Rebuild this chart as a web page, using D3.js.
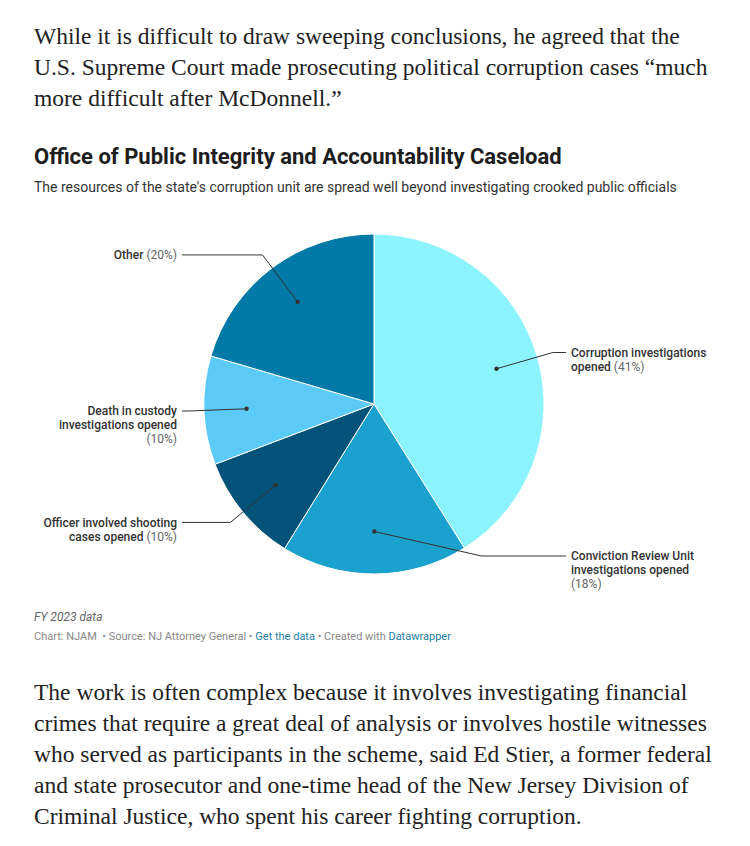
<!DOCTYPE html>
<html>
<head>
<meta charset="utf-8">
<script src="https://cdn.jsdelivr.net/npm/d3@7"></script>
<style>
  html, body { margin: 0; padding: 0; background: #fff; }
  svg { display: block; }
</style>
</head>
<body>
<svg id="page" width="750" height="846"></svg>
<script>
// ---- data ----
const categories = [
  "Corruption investigations opened",
  "Conviction Review Unit investigations opened",
  "Officer involved shooting cases opened",
  "Death in custody investigations opened",
  "Other"
];
// shares (labels show them rounded)
const values = [41.0, 17.7, 10.4, 10.3, 20.4];
const colors = ["#8cf4fe", "#1aa1cd", "#03527a", "#5ccaf6", "#0279a6"];
// label lines (text only); the percentage is appended to the last line, or placed on its own line when "" is last
const labelLines = [
  ["Corruption investigations", "opened"],
  ["Conviction Review Unit", "investigations opened", ""],
  ["Officer involved shooting", "cases opened"],
  ["Death in custody", "investigations opened", ""],
  ["Other"]
];
const title = "Office of Public Integrity and Accountability Caseload";
const subtitle = "The resources of the state's corruption unit are spread well beyond investigating crooked public officials";
const notes = "FY 2023 data";
const paraTop = [
  "While it is difficult to draw sweeping conclusions, he agreed that the",
  "U.S. Supreme Court made prosecuting political corruption cases \u201cmuch",
  "more difficult after McDonnell.\u201d"
];
const paraBottom = [
  "The work is often complex because it involves investigating financial",
  "crimes that require a great deal of analysis or involves hostile witnesses",
  "who served as participants in the scheme, said Ed Stier, a former federal",
  "and state prosecutor and one-time head of the New Jersey Division of",
  "Criminal Justice, who spent his career fighting corruption."
];

// ---- drawing ----
const svg = d3.select("#page");
const serif = "'Liberation Serif', 'DejaVu Serif', serif";
const sans = "Roboto, 'Noto Sans', sans-serif";

function para(lines, y0) {
  const g = svg.append("g");
  lines.forEach((t, i) => {
    g.append("text")
      .attr("x", 34).attr("y", y0 + i * 31)
      .attr("font-family", serif).attr("font-size", 23.5)
      .attr("fill", "#222").text(t);
  });
}
para(paraTop, 44);
para(paraBottom, 700);

svg.append("text").attr("x", 34).attr("y", 164)
  .attr("font-family", sans).attr("font-size", 22).attr("font-weight", 700)
  .attr("fill", "#1d1d1d").text(title);
svg.append("text").attr("x", 34).attr("y", 192)
  .attr("font-family", sans).attr("font-size", 14)
  .attr("fill", "#333").text(subtitle);

// pie
const cx = 374, cy = 404, R = 170;
const lineH = 14;
const total = d3.sum(values);
const pie = d3.pie().sort(null).value(d => d)(values);
const arc = d3.arc().innerRadius(0).outerRadius(R);
const dotArc = d3.arc().innerRadius(R * 0.75).outerRadius(R * 0.75);
const Re = R * 1.095;
const elbowArc = d3.arc().innerRadius(Re).outerRadius(Re);
const pct = v => `(${Math.round(v / total * 100)}%)`;

const gp = svg.append("g").attr("transform", `translate(${cx},${cy})`);
gp.selectAll("path.slice").data(pie).join("path")
  .attr("class", "slice")
  .attr("d", arc)
  .attr("fill", (d, i) => colors[i])
  .attr("stroke", "#fff").attr("stroke-width", 1);

pie.forEach((d, i) => {
  const lines = labelLines[i];
  const dot = dotArc.centroid(d);
  const c = elbowArc.centroid(d);
  const right = c[0] >= 0;
  // keep multi-line label blocks within the pie's vertical extent
  const maxY = R + 10 - (lines.length - 1) * lineH;
  const minY = -R - 10;
  const ly = Math.max(minY, Math.min(maxY, c[1]));
  const ex = (right ? 1 : -1) * Math.sqrt(Math.max(0, Re * Re - ly * ly));
  const elb = [ex, ly];
  const endX = right ? 192 : -192;
  const textX = right ? 197 : -197;
  gp.append("polyline")
    .attr("points", [dot, elb, [endX, ly]].map(p => p.join(",")).join(" "))
    .attr("fill", "none").attr("stroke", "#333").attr("stroke-width", 1);
  gp.append("circle").attr("cx", dot[0]).attr("cy", dot[1]).attr("r", 2.2).attr("fill", "#333");

  const t = gp.append("text")
    .attr("x", textX).attr("y", ly + 4.3)
    .attr("font-family", sans).attr("font-size", 12)
    .attr("text-anchor", right ? "start" : "end");
  lines.forEach((ln, j) => {
    const ts = t.append("tspan").attr("x", textX).attr("dy", j === 0 ? 0 : lineH);
    if (ln !== "") {
      ts.append("tspan").attr("font-weight", 500).attr("fill", "#333").text(ln);
    }
    if (j === lines.length - 1) {
      ts.append("tspan").attr("fill", "#666").text((ln !== "" ? " " : "") + pct(values[i]));
    }
  });
});

// footer
svg.append("text").attr("x", 34).attr("y", 621)
  .attr("font-family", sans).attr("font-size", 12).attr("font-style", "italic")
  .attr("fill", "#666").text(notes);
const foot = svg.append("text").attr("x", 34).attr("y", 640)
  .attr("font-family", sans).attr("font-size", 11).attr("fill", "#888");
foot.append("tspan").text("Chart: NJAM \u00a0\u2022 Source: NJ Attorney General \u2022 ");
foot.append("tspan").attr("fill", "#1d81a2").text("Get the data");
foot.append("tspan").text(" \u2022 Created with ");
foot.append("tspan").attr("fill", "#1d81a2").text("Datawrapper");
</script>
</body>
</html>
